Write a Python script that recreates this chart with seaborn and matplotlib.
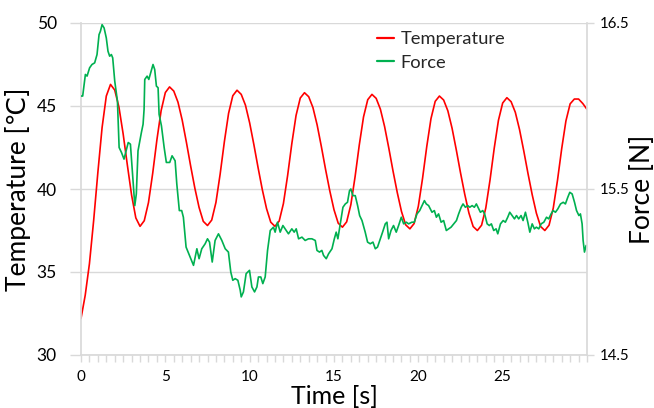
import numpy as np
import pandas as pd
import matplotlib
matplotlib.use("Agg")
import matplotlib.pyplot as plt
from matplotlib.lines import Line2D
from matplotlib.ticker import MultipleLocator
import seaborn as sns

# ---------------- data ----------------
time = np.arange(0, 30.001, 0.25)
temperature = [
    32.2, 33.6, 35.5, 38.1, 41.0, 43.7, 45.6, 46.3,
    45.96, 44.93, 43.31, 41.43, 39.63, 38.26, 37.75,
    38.09, 39.18, 40.94, 42.96, 44.72, 45.81, 46.15,
    45.90, 45.23, 44.15, 42.81, 41.39, 40.05, 38.89, 38.05, 37.80,
    38.13, 39.19, 40.90, 42.85, 44.56, 45.62, 45.95,
    45.70, 45.05, 43.98, 42.67, 41.28, 39.96, 38.82, 38.00, 37.75,
    38.07, 39.12, 40.81, 42.74, 44.43, 45.48, 45.80,
    45.56, 44.91, 43.86, 42.56, 41.18, 39.89, 38.75, 37.94, 37.70,
    38.02, 39.06, 40.74, 42.66, 44.34, 45.38, 45.70,
    45.46, 44.81, 43.76, 42.46, 41.08, 39.79, 38.65, 37.84, 37.60,
    37.92, 38.96, 40.64, 42.56, 44.24, 45.28, 45.60,
    45.36, 44.71, 43.66, 42.36, 40.98, 39.69, 38.55, 37.74, 37.50,
    37.82, 38.86, 40.54, 42.46, 44.14, 45.18, 45.50,
    45.26, 44.62, 43.58, 42.30, 40.94, 39.66, 38.54, 37.74, 37.50,
    37.82, 38.85, 40.52, 42.43, 44.10, 45.13, 45.42,
    45.42, 45.15, 44.80,
]

force_time = [
    0.00, 0.10, 0.26, 0.36, 0.51, 0.65, 0.81, 0.95, 1.07, 1.15, 1.25, 1.37,
    1.50, 1.60, 1.70, 1.80, 1.88, 2.00, 2.16, 2.26, 2.40, 2.55, 2.65, 2.80,
    2.93, 3.03, 3.19, 3.28, 3.38, 3.58, 3.68, 3.74, 3.78, 3.92, 4.02, 4.13,
    4.27, 4.37, 4.47, 4.57, 4.63, 4.77, 4.93, 5.06, 5.26, 5.40, 5.58, 5.68,
    5.83, 5.97, 6.07, 6.23, 6.43, 6.67, 6.87, 7.00, 7.16, 7.36, 7.50, 7.62,
    7.78, 7.95, 8.15, 8.35, 8.55, 8.74, 8.88, 9.00, 9.14, 9.30, 9.44, 9.50,
    9.63, 9.79, 9.99, 10.13, 10.29, 10.43, 10.52, 10.66, 10.78, 10.92, 11.06,
    11.22, 11.41, 11.51, 11.65, 11.81, 11.97, 12.10, 12.30, 12.50, 12.64,
    12.76, 12.90, 13.10, 13.29, 13.49, 13.69, 13.89, 13.99, 14.14, 14.28,
    14.38, 14.54, 14.68, 14.88, 15.02, 15.13, 15.23, 15.37, 15.53, 15.67,
    15.80, 15.92, 16.00, 16.12, 16.26, 16.40, 16.52, 16.66, 16.85, 16.99,
    17.15, 17.31, 17.45, 17.58, 17.75, 17.88, 18.04, 18.14, 18.24, 18.38,
    18.53, 18.69, 18.83, 18.99, 19.13, 19.29, 19.42, 19.62, 19.76, 19.92,
    20.08, 20.22, 20.36, 20.47, 20.61, 20.81, 20.95, 21.07, 21.20, 21.35,
    21.50, 21.66, 21.80, 21.94, 22.10, 22.26, 22.39, 22.54, 22.65, 22.79,
    22.93, 23.05, 23.19, 23.32, 23.44, 23.58, 23.68, 23.82, 23.93, 24.08,
    24.21, 24.33, 24.47, 24.61, 24.71, 24.87, 25.03, 25.16, 25.30, 25.42,
    25.56, 25.70, 25.82, 25.95, 26.09, 26.21, 26.35, 26.49, 26.61, 26.75,
    26.88, 27.00, 27.14, 27.28, 27.44, 27.60, 27.73, 27.87, 27.99, 28.13,
    28.27, 28.43, 28.59, 28.72, 28.86, 28.98, 29.12, 29.26, 29.38, 29.52,
    29.61, 29.71, 29.77, 29.85, 29.95,
]
force = [
    16.06, 16.06, 16.19, 16.18, 16.23, 16.25, 16.26, 16.31, 16.43, 16.45, 16.49, 16.47,
    16.41, 16.33, 16.30, 16.31, 16.29, 16.15, 16.03, 15.75, 15.72, 15.68, 15.72, 15.78,
    15.77, 15.63, 15.40, 15.47, 15.73, 15.84, 15.89, 15.98, 16.16, 16.18, 16.16, 16.20,
    16.25, 16.22, 16.12, 16.11, 15.95, 15.88, 15.75, 15.66, 15.66, 15.70, 15.67, 15.53,
    15.37, 15.37, 15.33, 15.15, 15.10, 15.04, 15.14, 15.08, 15.14, 15.17, 15.20, 15.18,
    15.06, 15.19, 15.23, 15.19, 15.14, 15.12, 15.00, 14.95, 14.96, 14.95, 14.89, 14.85,
    14.88, 14.99, 15.01, 14.91, 14.88, 14.91, 14.97, 14.97, 14.93, 14.97, 15.13,
    15.25, 15.27, 15.24, 15.30, 15.24, 15.28, 15.26, 15.23, 15.26, 15.24,
    15.26, 15.20, 15.21, 15.19, 15.20, 15.20, 15.19, 15.13, 15.12, 15.13,
    15.10, 15.08, 15.11, 15.14, 15.20, 15.24, 15.20, 15.29, 15.39, 15.41,
    15.42, 15.49, 15.50, 15.46, 15.46, 15.40, 15.34, 15.31, 15.24, 15.18,
    15.17, 15.18, 15.14, 15.15, 15.20, 15.24, 15.29, 15.30, 15.20, 15.25,
    15.28, 15.24, 15.28, 15.33, 15.29, 15.30, 15.29, 15.30, 15.30, 15.35,
    15.37, 15.40, 15.43, 15.41, 15.40, 15.36, 15.37, 15.33, 15.35, 15.30,
    15.31, 15.25, 15.26, 15.27, 15.29, 15.31, 15.35, 15.39, 15.41, 15.39,
    15.40, 15.39, 15.40, 15.39, 15.41, 15.38, 15.36, 15.37, 15.35, 15.29,
    15.28, 15.29, 15.25, 15.26, 15.23, 15.29, 15.31, 15.30, 15.33, 15.36,
    15.34, 15.32, 15.34, 15.32, 15.34, 15.31, 15.36, 15.30, 15.24, 15.29,
    15.26, 15.27, 15.26, 15.29, 15.30, 15.33, 15.32, 15.35, 15.37, 15.36,
    15.38, 15.41, 15.42, 15.41, 15.45, 15.48, 15.47, 15.42, 15.37, 15.34,
    15.35, 15.29, 15.19, 15.12, 15.16,
]

temp_ticks = [30, 35, 40, 45, 50]
force_ticks = [14.5, 15.5, 16.5]
time_ticks = [0, 5, 10, 15, 20, 25]
series_labels = ["Temperature", "Force"]
x_label = "Time [s]"
y_label_left = "Temperature [\u2103]"
y_label_right = "Force [N]"

# ---------------- style ----------------
sns.set_theme(style="white")
plt.rcParams["font.family"] = ["Lato", "DejaVu Sans"]

RED = "#FF0000"
GREEN = "#00B050"
GRID = "#D9D9D9"

fig = plt.figure(figsize=(6.54, 4.08), dpi=100)
ax = fig.add_axes([81 / 654, 1 - 355 / 408, (587 - 81) / 654, (355 - 23) / 408])

df_t = pd.DataFrame({"time": time, "temperature": temperature})
df_f = pd.DataFrame({"time": force_time, "force": force})

sns.lineplot(data=df_t, x="time", y="temperature", color=RED, lw=1.2, ax=ax)
ax2 = ax.twinx()
sns.lineplot(data=df_f, x="time", y="force", color=GREEN, lw=1.2, ax=ax2)

ax.set_xlim(0, 30)
ax.set_ylim(30, 50)
ax2.set_ylim(14.5, 16.5)

ax.set_xticks(time_ticks)
ax.xaxis.set_minor_locator(MultipleLocator(0.5))
ax.set_yticks(temp_ticks)
ax2.set_yticks(force_ticks)
ax2.set_yticklabels([str(v) for v in force_ticks])

ax.yaxis.grid(True, color=GRID, lw=1.0)
ax.xaxis.grid(False)
ax2.grid(False)

for a in (ax, ax2):
    for s in a.spines.values():
        s.set_visible(False)
ax.spines["left"].set_visible(True)
ax.spines["left"].set_color(GRID)
ax.spines["bottom"].set_visible(True)
ax.spines["bottom"].set_color(GRID)
ax2.spines["right"].set_visible(True)
ax2.spines["right"].set_color(GRID)

ax.tick_params(axis="x", which="both", direction="out", length=5, width=1,
               color=GRID, bottom=True, labelsize=11, pad=6, labelcolor="black")
ax.tick_params(axis="y", which="major", direction="out", length=8, width=1,
               color=GRID, left=True, labelsize=12.5, pad=9.5, labelcolor="black")
ax2.tick_params(axis="y", which="major", direction="out", length=5, width=1,
                color=GRID, right=True, labelsize=10.8, pad=4, labelcolor="black")

ax.set_xlabel(x_label, fontsize=18, color="black")
ax.xaxis.set_label_coords(0.5, -0.089)
ax.xaxis.label.set_va("top")
ax.set_ylabel(y_label_left, fontsize=19, color="black")
ax.yaxis.set_label_coords(-0.1245, 0.5)
ax.yaxis.label.set_va("center")
ax2.set_ylabel(y_label_right, fontsize=19, color="black")
ax2.yaxis.set_label_coords(1.11, 0.5)
ax2.yaxis.label.set_va("center")

handles = [Line2D([0], [0], color=RED, lw=1.6), Line2D([0], [0], color=GREEN, lw=1.6)]
fig.legend(handles, series_labels, loc="upper left",
           bbox_to_anchor=(377 / 654, 1 - 31 / 408), frameon=False,
           fontsize=13.2, handlelength=0.95, handletextpad=0.35,
           labelspacing=0.42, borderpad=0, borderaxespad=0)

fig.savefig("out.png", dpi=100)
